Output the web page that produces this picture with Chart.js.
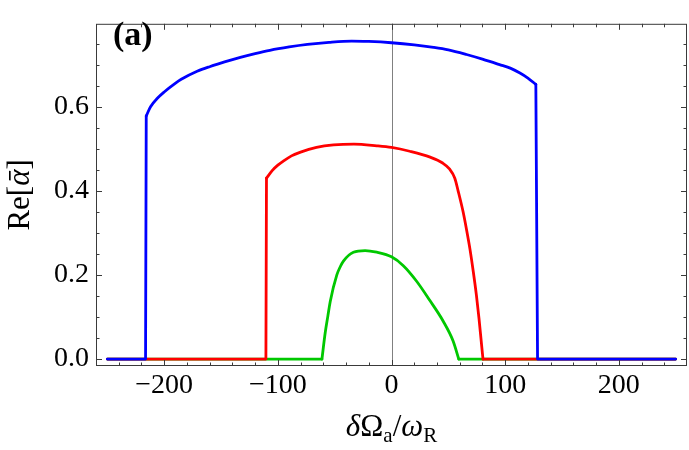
<!DOCTYPE html>
<html>
<head>
<meta charset="utf-8">
<script src="https://cdn.jsdelivr.net/npm/chart.js@4.4.0/dist/chart.umd.min.js"></script>
<style>
  html, body { margin: 0; padding: 0; background: #fff; }
  #wrap { width: 689px; height: 450px; }
</style>
</head>
<body>
<div id="wrap"><canvas id="chart" width="689" height="450"></canvas></div>
<script>
'use strict';

/* ---- data ---- */
const xMajor = [-200, -100, 0, 100, 200];
const yMajor = [0.0, 0.2, 0.4, 0.6];
const xMinorStep = 20;
const yMinorStep = 0.05;

// smooth parts of each curve
const blueArcX = [-215.8, -212, -206, -200, -190, -185, -171, -160, -153, -133, -120, -107, -90, -74, -55, -35, -20, 0, 20, 37, 50, 66, 80, 95, 105, 113, 120, 127];
const blueArcY = [0.578, 0.600, 0.620, 0.635, 0.656, 0.665, 0.684, 0.695, 0.701, 0.717, 0.726, 0.734, 0.742, 0.748, 0.753, 0.756, 0.755, 0.752, 0.747, 0.741, 0.735, 0.724, 0.713, 0.700, 0.691, 0.680, 0.668, 0.653];
// flat zero parts and jumps (null = break)
const blueEdgeX = [-250, -216.4, -215.8, 0, 127, 128.5, 250];
const blueEdgeY = [0, 0, 0.578, null, 0.653, 0, 0];

const redArcX = [-110, -105, -100, -95, -88, -80, -66, -51, -33, -13, 0, 16, 34, 45, 51, 55.7, 58.6, 63, 66, 69, 72, 74.7, 77, 79, 80.5];
const redArcY = [0.430, 0.448, 0.461, 0.471, 0.483, 0.492, 0.503, 0.509, 0.511, 0.507, 0.503, 0.494, 0.480, 0.466, 0.452, 0.430, 0.400, 0.350, 0.308, 0.262, 0.207, 0.152, 0.096, 0.041, 0];
const redEdgeX = [-250, -110.5, -110, 0, 80.5, 250];
const redEdgeY = [0, 0, 0.430, null, 0, 0];

const greenArcX = [-61.2, -58.3, -56, -53.9, -48.1, -45, -42.3, -33.5, -23.2, -13, 0, 10.4, 22.1, 33.8, 45.5, 54.2, 59.2];
const greenArcY = [0, 0.063, 0.102, 0.137, 0.200, 0.220, 0.233, 0.254, 0.258, 0.254, 0.243, 0.222, 0.185, 0.139, 0.090, 0.043, 0];
const greenEdgeX = [-250, -61.2, 0, 59.2, 250];
const greenEdgeY = [0, 0, null, 0, 0];

const SERIF = "'Liberation Serif', 'DejaVu Serif', serif";
const FRAME = '#3a3a3a';

function pts(xs, ys) {
  return xs.map((x, i) => ({ x: x, y: ys[i] }));
}

function series(xs, ys, color, order, smooth) {
  return {
    data: pts(xs, ys),
    borderColor: color,
    borderWidth: 2.8,
    pointRadius: 0,
    showLine: true,
    fill: false,
    spanGaps: false,
    tension: smooth ? 0.4 : 0,
    cubicInterpolationMode: smooth ? 'monotone' : 'default',
    borderJoinStyle: 'round',
    borderCapStyle: 'round',
    order: order
  };
}

/* frame, inward ticks, zero line, titles */
const framePlugin = {
  id: 'frame',
  beforeDatasetsDraw(chart) {
    const { ctx, chartArea: a, scales: { x } } = chart;
    const px = Math.round(x.getPixelForValue(0)) + 0.5;
    ctx.save();
    ctx.strokeStyle = '#808080';
    ctx.lineWidth = 1;
    ctx.beginPath();
    ctx.moveTo(px, a.top);
    ctx.lineTo(px, a.bottom);
    ctx.stroke();
    ctx.restore();
  },
  afterDatasetsDraw(chart) {
    const { ctx, chartArea: a, scales: { x, y } } = chart;
    ctx.save();
    ctx.strokeStyle = FRAME;
    ctx.lineWidth = 1;
    ctx.strokeRect(a.left + 0.5, a.top + 0.5, a.right - a.left - 1, a.bottom - a.top - 1);

    ctx.beginPath();
    // x ticks (bottom and top)
    for (let v = -260; v <= 260; v += xMinorStep) {
      const p = Math.round(x.getPixelForValue(v)) + 0.5;
      if (p <= a.left + 1 || p >= a.right - 1) continue;
      const len = xMajor.includes(v) ? 6 : 3.5;
      ctx.moveTo(p, a.bottom);
      ctx.lineTo(p, a.bottom - len);
      ctx.moveTo(p, a.top);
      ctx.lineTo(p, a.top + len);
    }
    // y ticks (left and right)
    for (let k = 0; k * yMinorStep <= 0.8; k++) {
      const v = +(k * yMinorStep).toFixed(2);
      const p = Math.round(y.getPixelForValue(v)) + 0.5;
      if (p <= a.top + 1 || p >= a.bottom - 1) continue;
      const len = yMajor.some(m => Math.abs(m - v) < 1e-9) ? 6 : 3.5;
      ctx.moveTo(a.left, p);
      ctx.lineTo(a.left + len, p);
      ctx.moveTo(a.right, p);
      ctx.lineTo(a.right - len, p);
    }
    ctx.stroke();

    // panel label
    ctx.fillStyle = '#000';
    ctx.font = 'bold 34px ' + SERIF;
    ctx.textBaseline = 'alphabetic';
    ctx.textAlign = 'left';
    ctx.fillText('(a)', 113, 45);

    // x title: δΩ_a/ω_R
    const big = 31, small = 21;
    const xParts = [
      { t: 'δ', f: 'italic ' + big + 'px ' + SERIF, dy: 0 },
      { t: 'Ω', f: big + 'px ' + SERIF, dy: 0 },
      { t: 'a', f: small + 'px ' + SERIF, dy: 6 },
      { t: '/', f: big + 'px ' + SERIF, dy: 0 },
      { t: 'ω', f: 'italic ' + big + 'px ' + SERIF, dy: 0 },
      { t: 'R', f: small + 'px ' + SERIF, dy: 6 }
    ];
    drawParts(ctx, xParts, (a.left + a.right) / 2, 436);

    // y title: Re[ᾱ], rotated
    ctx.save();
    ctx.translate(29, (a.top + a.bottom) / 2);
    ctx.rotate(-Math.PI / 2);
    const yParts = [
      { t: 'Re[', f: big + 'px ' + SERIF, dy: 0 },
      { t: 'ᾱ', f: 'italic ' + big + 'px ' + SERIF, dy: 0 },
      { t: ']', f: big + 'px ' + SERIF, dy: 0 }
    ];
    drawParts(ctx, yParts, 0, 0);
    ctx.restore();

    ctx.restore();
  }
};

function drawParts(ctx, parts, cx, baseY) {
  let total = 0;
  parts.forEach(p => { ctx.font = p.f; p.w = ctx.measureText(p.t).width; total += p.w; });
  let xx = cx - total / 2;
  ctx.textAlign = 'left';
  ctx.textBaseline = 'alphabetic';
  ctx.fillStyle = '#000';
  parts.forEach(p => {
    ctx.font = p.f;
    ctx.fillText(p.t, xx, baseY + p.dy);
    xx += p.w;
  });
}

const ctx = document.getElementById('chart').getContext('2d');
new Chart(ctx, {
  type: 'scatter',
  data: {
    datasets: [
      series(blueArcX, blueArcY, '#0000ff', 0, true),
      series(blueEdgeX, blueEdgeY, '#0000ff', 1, false),
      series(redArcX, redArcY, '#ff0000', 2, true),
      series(redEdgeX, redEdgeY, '#ff0000', 3, false),
      series(greenArcX, greenArcY, '#00c800', 4, true),
      series(greenEdgeX, greenEdgeY, '#00c800', 5, false)
    ]
  },
  options: {
    responsive: false,
    animation: false,
    layout: { padding: { top: 1, right: 2, left: 0, bottom: 0 } },
    plugins: {
      legend: { display: false },
      tooltip: { enabled: false },
      title: { display: false }
    },
    scales: {
      x: {
        type: 'linear',
        min: -260,
        max: 260,
        grid: { display: false, drawTicks: false },
        border: { display: false },
        afterFit: s => { s.height = 84; },
        afterBuildTicks: s => { s.ticks = xMajor.map(v => ({ value: v })); },
        ticks: {
          color: '#000',
          padding: 3,
          maxRotation: 0,
          font: { family: SERIF, size: 28 },
          callback: v => v < 0 ? '\u2212' + Math.abs(v) : String(v)
        }
      },
      y: {
        type: 'linear',
        min: -0.0165,
        max: 0.797,
        grid: { display: false, drawTicks: false },
        border: { display: false },
        afterFit: s => { s.width = 96; },
        afterBuildTicks: s => { s.ticks = yMajor.map(v => ({ value: v })); },
        ticks: {
          color: '#000',
          padding: 7,
          font: { family: SERIF, size: 28 },
          callback: v => v.toFixed(1)
        }
      }
    }
  },
  plugins: [framePlugin]
});
</script>
</body>
</html>
